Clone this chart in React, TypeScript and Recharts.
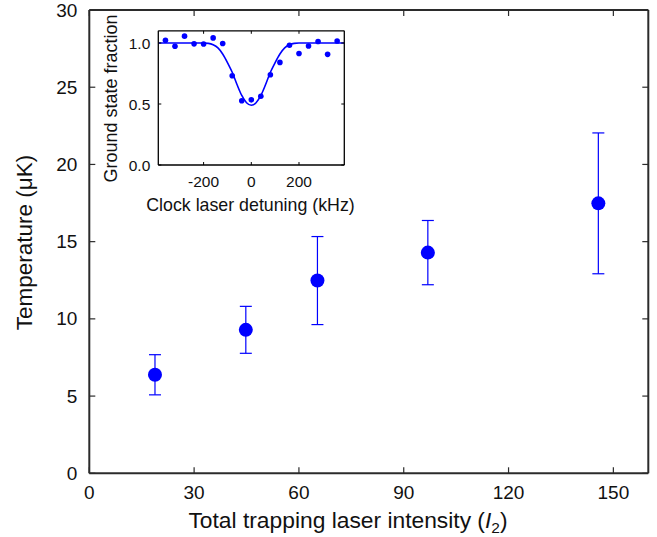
import React from 'react';
import { ComposedChart, Scatter, Line, XAxis, YAxis, ErrorBar, Label } from 'recharts';

// ---- main plot data ----
const intensity = [18.8, 44.8, 65.3, 96.9, 145.7];
const temperature = [6.38, 9.29, 12.48, 14.29, 17.48];
const tempError = [1.3, 1.52, 2.85, 2.08, 4.56];
const mainXTicks = [0, 30, 60, 90, 120, 150];
const mainYTicks = [0, 5, 10, 15, 20, 25, 30];

// ---- inset data ----
const detuning = [-360, -320, -280, -240, -200, -160, -120, -80, -40, 0, 40, 80, 120, 160, 200, 240, 280, 320, 360];
const groundFraction = [1.022, 0.973, 1.056, 0.993, 0.992, 1.042, 0.996, 0.731, 0.527, 0.534, 0.564, 0.74, 0.841, 0.982, 0.914, 0.975, 1.012, 0.907, 1.016];
const fitDetuning = [-390, -200, -180, -160, -140, -120, -100, -80, -60, -40, -20, 0, 20, 40, 60, 80, 100, 120, 140, 160, 180, 200, 390];
const fitFraction = [1.0, 1.0, 0.997, 0.985, 0.96, 0.91, 0.84, 0.76, 0.66, 0.57, 0.51, 0.49, 0.51, 0.57, 0.66, 0.76, 0.84, 0.91, 0.96, 0.985, 0.997, 1.0, 1.0];
const insetXTicks = [-200, 0, 200];
const insetYTicks = [0, 0.5, 1.0];

const mainData = intensity.map((x, i) => ({ x, y: temperature[i], err: tempError[i] }));
const insetPoints = detuning.map((x, i) => ({ x, y: groundFraction[i] }));
const fitData = fitDetuning.map((x, i) => ({ x, y: fitFraction[i] }));

const FONT = '"Liberation Sans", Arial, Helvetica, sans-serif';
const BLUE = '#0000ff';
const FRAME = '#2b2b2b';
const TEXT = '#111';

// main tick renderers (tickSize 0, tickMargin 0 → x/y are on the axis line)
const MainLeftTick = (p: any) => (
  <g>
    <line x1={p.x} x2={p.x + 6} y1={p.y} y2={p.y} stroke={FRAME} strokeWidth={1.2} />
    <text x={p.x - 12} y={p.y + 6.5} textAnchor="end" fontSize={19} fill={TEXT} fontFamily={FONT}>{p.payload.value}</text>
  </g>
);
const MainBottomTick = (p: any) => (
  <g>
    <line x1={p.x} x2={p.x} y1={p.y} y2={p.y - 6} stroke={FRAME} strokeWidth={1.2} />
    <text x={p.x} y={p.y + 26} textAnchor="middle" fontSize={19} fill={TEXT} fontFamily={FONT}>{p.payload.value}</text>
  </g>
);
const MainTopTick = (p: any) => (
  <line x1={p.x} x2={p.x} y1={p.y} y2={p.y + 6} stroke={FRAME} strokeWidth={1.2} />
);
const MainRightTick = (p: any) => (
  <line x1={p.x} x2={p.x - 6} y1={p.y} y2={p.y} stroke={FRAME} strokeWidth={1.2} />
);

const InsetLeftTick = (p: any) => (
  <g>
    <line x1={p.x} x2={p.x + 3} y1={p.y} y2={p.y} stroke="#000" strokeWidth={1} />
    <text x={p.x - 8} y={p.y + 5.5} textAnchor="end" fontSize={15.5} fill={TEXT} fontFamily={FONT}>{Number(p.payload.value).toFixed(1)}</text>
  </g>
);
const InsetBottomTick = (p: any) => (
  <g>
    <line x1={p.x} x2={p.x} y1={p.y} y2={p.y - 3} stroke="#000" strokeWidth={1} />
    <text x={p.x} y={p.y + 21.5} textAnchor="middle" fontSize={15.5} fill={TEXT} fontFamily={FONT}>{p.payload.value}</text>
  </g>
);
const InsetTopTick = (p: any) => (
  <line x1={p.x} x2={p.x} y1={p.y} y2={p.y + 3} stroke="#000" strokeWidth={1} />
);
const InsetRightTick = (p: any) => (
  <line x1={p.x} x2={p.x - 3} y1={p.y} y2={p.y} stroke="#000" strokeWidth={1} />
);

const BigDot = (p: any) => <circle cx={p.cx} cy={p.cy} r={7} fill={BLUE} />;
const SmallDot = (p: any) => <circle cx={p.cx} cy={p.cy} r={2.8} fill={BLUE} />;

export default function App() {
  return (
    <div style={{ position: 'absolute', left: 0, top: 0, width: 657, height: 537, background: '#fff', fontFamily: FONT }}>
      <div style={{ position: 'absolute', left: 0, top: 0 }}>
        <ComposedChart width={657} height={537} data={mainData} margin={{ top: 9, right: 7.7, bottom: 0, left: 0 }}>
          <XAxis xAxisId="b" dataKey="x" type="number" domain={[0, 160]} ticks={mainXTicks} orientation="bottom"
            height={63.7} tickSize={0} tickMargin={0} tickLine={false} tick={MainBottomTick}
            axisLine={{ stroke: FRAME, strokeWidth: 2 }} allowDataOverflow>
            <Label content={() => (
              <text x={348} y={527.5} textAnchor="middle" fontSize={22.8} fill={TEXT} fontFamily={FONT}>
                Total trapping laser intensity (<tspan fontStyle="italic">I</tspan><tspan fontSize={15.5} dy={5}>2</tspan><tspan dy={-5}>)</tspan>
              </text>
            )} />
          </XAxis>
          <XAxis xAxisId="t" dataKey="x" type="number" domain={[0, 160]} ticks={mainXTicks} orientation="top"
            height={1} tickSize={0} tickMargin={0} tickLine={false} tick={MainTopTick}
            axisLine={{ stroke: FRAME, strokeWidth: 2 }} allowDataOverflow />
          <YAxis yAxisId="l" type="number" domain={[0, 30]} ticks={mainYTicks} orientation="left"
            width={89.3} tickSize={0} tickMargin={0} tickLine={false} tick={MainLeftTick}
            axisLine={{ stroke: FRAME, strokeWidth: 2 }} allowDataOverflow>
            <Label content={() => (
              <text x={32} y={242.5} transform="rotate(-90, 32, 242.5)" textAnchor="middle" fontSize={22.5} fill={TEXT} fontFamily={FONT}>
                Temperature (μK)
              </text>
            )} />
          </YAxis>
          <YAxis yAxisId="r" type="number" domain={[0, 30]} ticks={mainYTicks} orientation="right"
            width={1} tickSize={0} tickMargin={0} tickLine={false} tick={MainRightTick}
            axisLine={{ stroke: FRAME, strokeWidth: 2 }} allowDataOverflow />
          <Scatter xAxisId="b" yAxisId="l" data={mainData} dataKey="y" shape={BigDot} isAnimationActive={false}>
            <ErrorBar dataKey="err" direction="y" width={6} stroke={BLUE} strokeWidth={1.2} isAnimationActive={false} />
          </Scatter>
        </ComposedChart>
      </div>
      <div style={{ position: 'absolute', left: 0, top: 0 }}>
        <ComposedChart width={657} height={537} margin={{ top: 29.8, right: 311.7, bottom: 322, left: 0 }}>
          <XAxis xAxisId="b" dataKey="x" type="number" domain={[-390, 390]} ticks={insetXTicks} orientation="bottom"
            height={50} tickSize={0} tickMargin={0} tickLine={false} tick={InsetBottomTick}
            axisLine={{ stroke: '#000', strokeWidth: 1.3 }} allowDataOverflow>
            <Label content={() => (
              <text x={250.5} y={211} textAnchor="middle" fontSize={17.8} fill={TEXT} fontFamily={FONT}>
                Clock laser detuning (kHz)
              </text>
            )} />
          </XAxis>
          <XAxis xAxisId="t" dataKey="x" type="number" domain={[-390, 390]} ticks={insetXTicks} orientation="top"
            height={1} tickSize={0} tickMargin={0} tickLine={false} tick={InsetTopTick}
            axisLine={{ stroke: '#000', strokeWidth: 1.3 }} allowDataOverflow />
          <YAxis yAxisId="l" type="number" domain={[0, 1.1]} ticks={insetYTicks} orientation="left"
            width={158.3} tickSize={0} tickMargin={0} tickLine={false} tick={InsetLeftTick}
            axisLine={{ stroke: '#000', strokeWidth: 1.3 }} allowDataOverflow>
            <Label content={() => (
              <text x={117} y={98.5} transform="rotate(-90, 117, 98.5)" textAnchor="middle" fontSize={18} fill={TEXT} fontFamily={FONT}>
                Ground state fraction
              </text>
            )} />
          </YAxis>
          <YAxis yAxisId="r" type="number" domain={[0, 1.1]} ticks={insetYTicks} orientation="right"
            width={1} tickSize={0} tickMargin={0} tickLine={false} tick={InsetRightTick}
            axisLine={{ stroke: '#000', strokeWidth: 1.3 }} allowDataOverflow />
          <Line xAxisId="b" yAxisId="l" data={fitData} dataKey="y" type="monotone" stroke={BLUE} strokeWidth={1.6}
            dot={false} activeDot={false} isAnimationActive={false} />
          <Scatter xAxisId="b" yAxisId="l" data={insetPoints} dataKey="y" shape={SmallDot} isAnimationActive={false} />
        </ComposedChart>
      </div>
    </div>
  );
}
